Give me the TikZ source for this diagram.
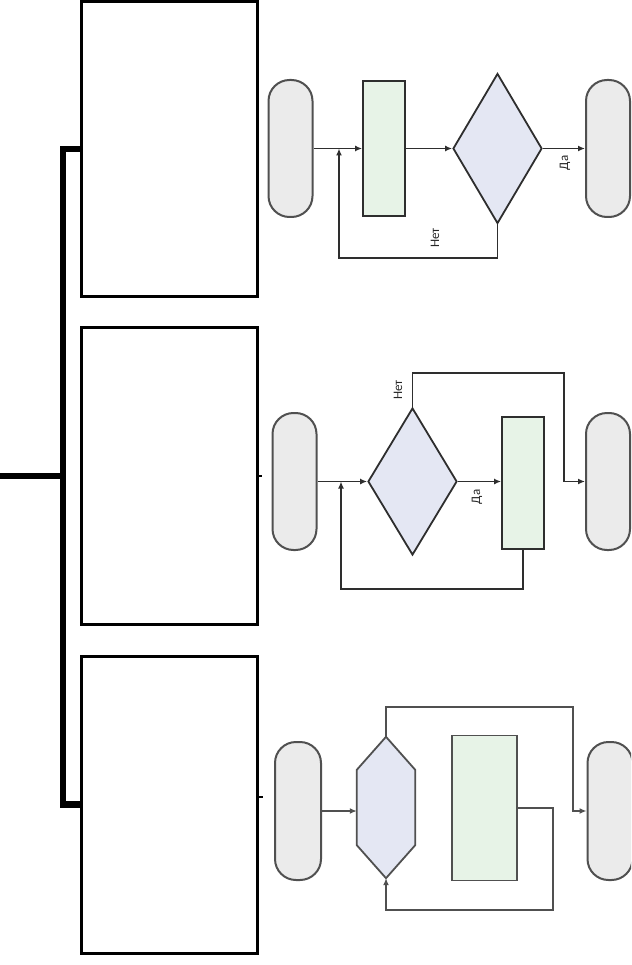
\documentclass[tikz,border=0pt]{standalone}
\usepackage{fontspec}
\setmainfont{Carlito}
\usetikzlibrary{shapes.geometric,arrows.meta,calc}
\definecolor{termfill}{HTML}{EBEBEB}
\definecolor{procfill}{HTML}{E7F3E7}
\definecolor{decfill}{HTML}{E4E7F3}
\definecolor{edge}{HTML}{2E2E2E}
\definecolor{edgelight}{HTML}{505050}
\tikzset{
  bigbox/.style={draw=black, line width=3pt, fill=white, minimum width=176pt, inner sep=0pt},
  spine/.style={line width=6.5pt, black, line join=miter},
  term/.style={draw=edgelight, line width=2pt, fill=termfill, rectangle, rounded corners=21pt, minimum width=44pt, minimum height=137pt, inner sep=0pt},
  proc/.style={draw=edge, line width=1.8pt, fill=procfill, rectangle, inner sep=0pt},
  dec/.style={draw=edge, line width=1.8pt, fill=decfill, diamond, inner sep=0pt},
  conn/.style={draw=edge, line width=1.8pt},
  arr/.style={conn, -{Latex[length=7pt,width=6pt]}},
  connl/.style={draw=edgelight, line width=1.5pt},
  arrl/.style={connl, -{Latex[length=7pt,width=6pt]}},
  lbl/.style={font=\fontsize{13}{14}\selectfont, text=black!85, rotate=90, inner sep=0pt}
}
\begin{document}
\begin{tikzpicture}[x=1pt,y=-1pt]
\useasboundingbox (0,0) rectangle (631,965);
\clip (0,0) rectangle (631,965);
% tree
\node[bigbox, minimum height=295pt] (b1) at (169,149) {};
\node[bigbox, minimum height=297pt] (b2) at (169,476) {};
\node[bigbox, minimum height=297pt] (b3) at (169,804.5) {};
\coordinate (root) at (0,476);
\coordinate (sp) at (63,476);
\draw[spine] (b1.west) -| (sp) |- (b3.west);
\draw[spine] (root) -- (sp);
\draw[line width=1.5pt] (b2.east) -- ++(3,0);
\draw[line width=2.5pt] ([yshift=7.5pt]b3.east) -- ++(4,0);
% flowchart 1
\node[term] (s1) at (290.5,148.5) {};
\node[proc, minimum width=42pt, minimum height=135pt] (r1) at (384,148.5) {};
\node[dec, minimum width=89pt, minimum height=150pt] (d1) at (497.5,148.5) {};
\node[term] (e1) at (608,148.5) {};
\coordinate (j1) at (339,148.5);
\coordinate (lb1) at (339,258);
\draw[arr] (s1.east) -- (r1.west);
\draw[arr] (r1.east) -- (d1.west);
\draw[arr] (d1.east) -- (d1.east -| e1.west);
\draw[arr] (d1.south) |- (lb1) -- (j1);
\node[lbl] (da1) at (565,163) {Да};
\node[lbl] (net1) at (435,238) {Нет};
% flowchart 2
\node[term] (s2) at (294.5,481.5) {};
\node[dec, minimum width=89pt, minimum height=147pt] (d2) at (412.5,481.5) {};
\node[proc, minimum width=42pt, minimum height=132pt] (r2) at (523,483) {};
\node[term] (e2) at (608,481.5) {};
\coordinate (j2) at (341,481.5);
\coordinate (lb2) at (341,589);
\coordinate (t2) at (564,373);
\draw[arr] (s2.east) -- (d2.west);
\draw[arr] (d2.east) -- (d2.east -| r2.west);
\draw[arr] (d2.north) |- (t2) |- (e2.west);
\draw[arr] (r2.south) |- (lb2) -- (j2);
\node[lbl] (net2) at (398,390) {Нет};
\node[lbl] (da2) at (477,497) {Да};
% flowchart 3
\node[term, minimum width=46pt, minimum height=138pt] (s3) at (298,811) {};
\node[minimum width=58pt, minimum height=141pt, inner sep=0pt] (h3) at (386,807.5) {};
\filldraw[draw=edgelight, line width=1.8pt, fill=decfill, line join=miter]
  (h3.north) -- ([yshift=-33pt]h3.north east) -- ([yshift=33pt]h3.south east)
  -- (h3.south) -- ([yshift=33pt]h3.south west) -- ([yshift=-33pt]h3.north west) -- cycle;
\node[proc, draw=edgelight, minimum width=65pt, minimum height=145pt] (r3) at (484.5,808) {};
\node[term, minimum width=45pt, minimum height=138pt] (e3) at (610,811) {};
\coordinate (lb3) at (553,910);
\coordinate (t3) at (573,707);
\draw[arrl] (s3.east) -- (s3.east -| h3.west);
\draw[arrl] (r3.east) -| (lb3) -| (h3.south);
\draw[arrl] (h3.north) |- (t3) |- (e3.west);
\end{tikzpicture}
\end{document}
